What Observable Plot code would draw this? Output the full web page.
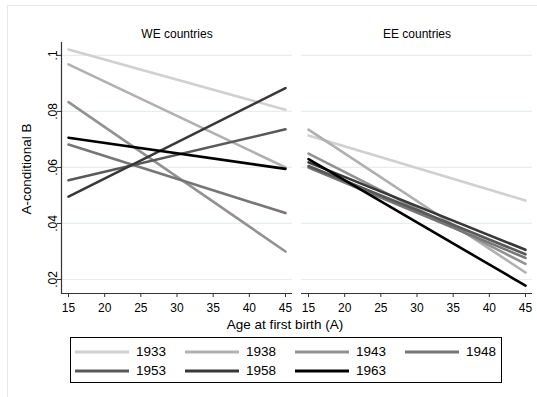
<!DOCTYPE html>
<html>
<head>
<meta charset="utf-8">
<script src="https://cdn.jsdelivr.net/npm/d3@7"></script>
<script src="https://cdn.jsdelivr.net/npm/@observablehq/plot@0.6"></script>
<style>
  body { margin: 0; background: #fff; font-family: "Liberation Sans", Arial, sans-serif; }
  #wrap { position: relative; width: 537px; height: 397px; overflow: hidden; }
  #frame { position: absolute; left: 7px; top: 5px; width: 540px; height: 400px;
           border-left: 1px solid #e3eaea; border-top: 1px solid #e3eaea; }
  #xtitle { position: absolute; top: 317px; left: 185px; width: 200px; text-align: center;
            font-size: 13.5px; color: #000; }
  #ytitle { position: absolute; left: 27px; top: 169px; width: 200px; height: 16px; line-height: 16px;
            margin-left: -100px; margin-top: -8px; text-align: center; font-size: 13.5px; color: #000;
            transform: rotate(-90deg); }
  #legend { position: absolute; left: 70px; top: 337px; width: 430px; height: 44px;
            border: 1px solid #000; background: #fff; }
  .li { position: absolute; font-size: 13.5px; color: #000; height: 16px; line-height: 16px; }
  .li svg { position: absolute; left: 0; top: 0; }
  .li span { position: absolute; left: 61px; top: 0; }
</style>
</head>
<body>
<div id="wrap">
  <div id="frame"></div>
  <div id="chart"></div>
  <div id="xtitle">Age at first birth (A)</div>
  <div id="ytitle">A-conditional B</div>
  <div id="legend"></div>
</div>
<script>
// ---- data ----
const regions = ["WE countries", "EE countries"];
const cohorts = [1933, 1938, 1943, 1948, 1953, 1958, 1963];
const cohortColors = ["#d0d0d0", "#b0b0b0", "#929292", "#767676", "#595959", "#383838", "#000000"];
const ages = [15, 45];
// A-conditional B at age 15 and age 45, per cohort
const weAt15 = [0.1021, 0.0968, 0.0833, 0.0682, 0.0554, 0.0496, 0.0706];
const weAt45 = [0.0806, 0.0600, 0.0300, 0.0437, 0.0736, 0.0883, 0.0595];
const eeAt15 = [0.0714, 0.0735, 0.0649, 0.0600, 0.0605, 0.0618, 0.0630];
const eeAt45 = [0.0482, 0.0225, 0.0256, 0.0277, 0.0290, 0.0306, 0.0178];
const ageTicks = [15, 20, 25, 30, 35, 40, 45];
const bTicks = [0.02, 0.04, 0.06, 0.08, 0.1];
const bTickLabels = [".02", ".04", ".06", ".08", ".1"];

const rows = [];
[[regions[0], weAt15, weAt45], [regions[1], eeAt15, eeAt45]].forEach(([r, s, e]) => {
  cohorts.forEach((c, i) => {
    rows.push({region: r, cohort: c, age: ages[0], b: s[i]});
    rows.push({region: r, cohort: c, age: ages[1], b: e[i]});
  });
});

const xDom = [14.03, 45.97];
const yDom = [0.015, 0.1046];

const chart = Plot.plot({
  width: 537,
  height: 337,
  marginLeft: 61,
  marginRight: 5,
  marginTop: 42,
  marginBottom: 44,
  style: {fontFamily: "'Liberation Sans', Arial, sans-serif", fontSize: "12px", color: "#000", background: "transparent"},
  fx: {domain: regions, paddingInner: 0.0375, paddingOuter: 0, label: null},
  x: {domain: xDom},
  y: {domain: yDom},
  color: {domain: cohorts, range: cohortColors},
  marks: [
    Plot.gridY(bTicks, {stroke: "#e6eeef", strokeOpacity: 1, strokeWidth: 1.2}),
    Plot.axisFx({anchor: "top", tickSize: 0, tickPadding: 5, label: null, fontSize: 12}),
    Plot.axisX(ageTicks, {anchor: "bottom", tickSize: 4, tickPadding: 6, label: null, stroke: "#333"}),
    Plot.axisY(bTicks, {anchor: "left", tickSize: 4, tickPadding: 1, tickRotate: -90,
      tickFormat: (d) => bTickLabels[bTicks.indexOf(d)],
      label: null, fontSize: 12, stroke: "#333"}),
    Plot.ruleY([yDom[0]], {stroke: "#333", strokeWidth: 1.2}),
    Plot.ruleX([{region: regions[0]}], {x: () => xDom[0], fx: "region", stroke: "#333", strokeWidth: 1.2}),
    Plot.line(rows, {x: "age", y: "b", z: "cohort", stroke: "cohort", fx: "region", strokeWidth: 2.6})
  ]
});
document.getElementById("chart").appendChild(chart);

// legend
const legend = document.getElementById("legend");
cohorts.forEach((c, i) => {
  const col = i % 4, row = Math.floor(i / 4);
  const item = document.createElement("div");
  item.className = "li";
  item.style.left = (4 + col * 110) + "px";
  item.style.top = (6 + row * 19) + "px";
  item.innerHTML = `<svg width="54" height="16"><line x1="0" x2="54" y1="8" y2="8" stroke="${cohortColors[i]}" stroke-width="3"/></svg><span>${c}</span>`;
  legend.appendChild(item);
});
</script>
</body>
</html>
